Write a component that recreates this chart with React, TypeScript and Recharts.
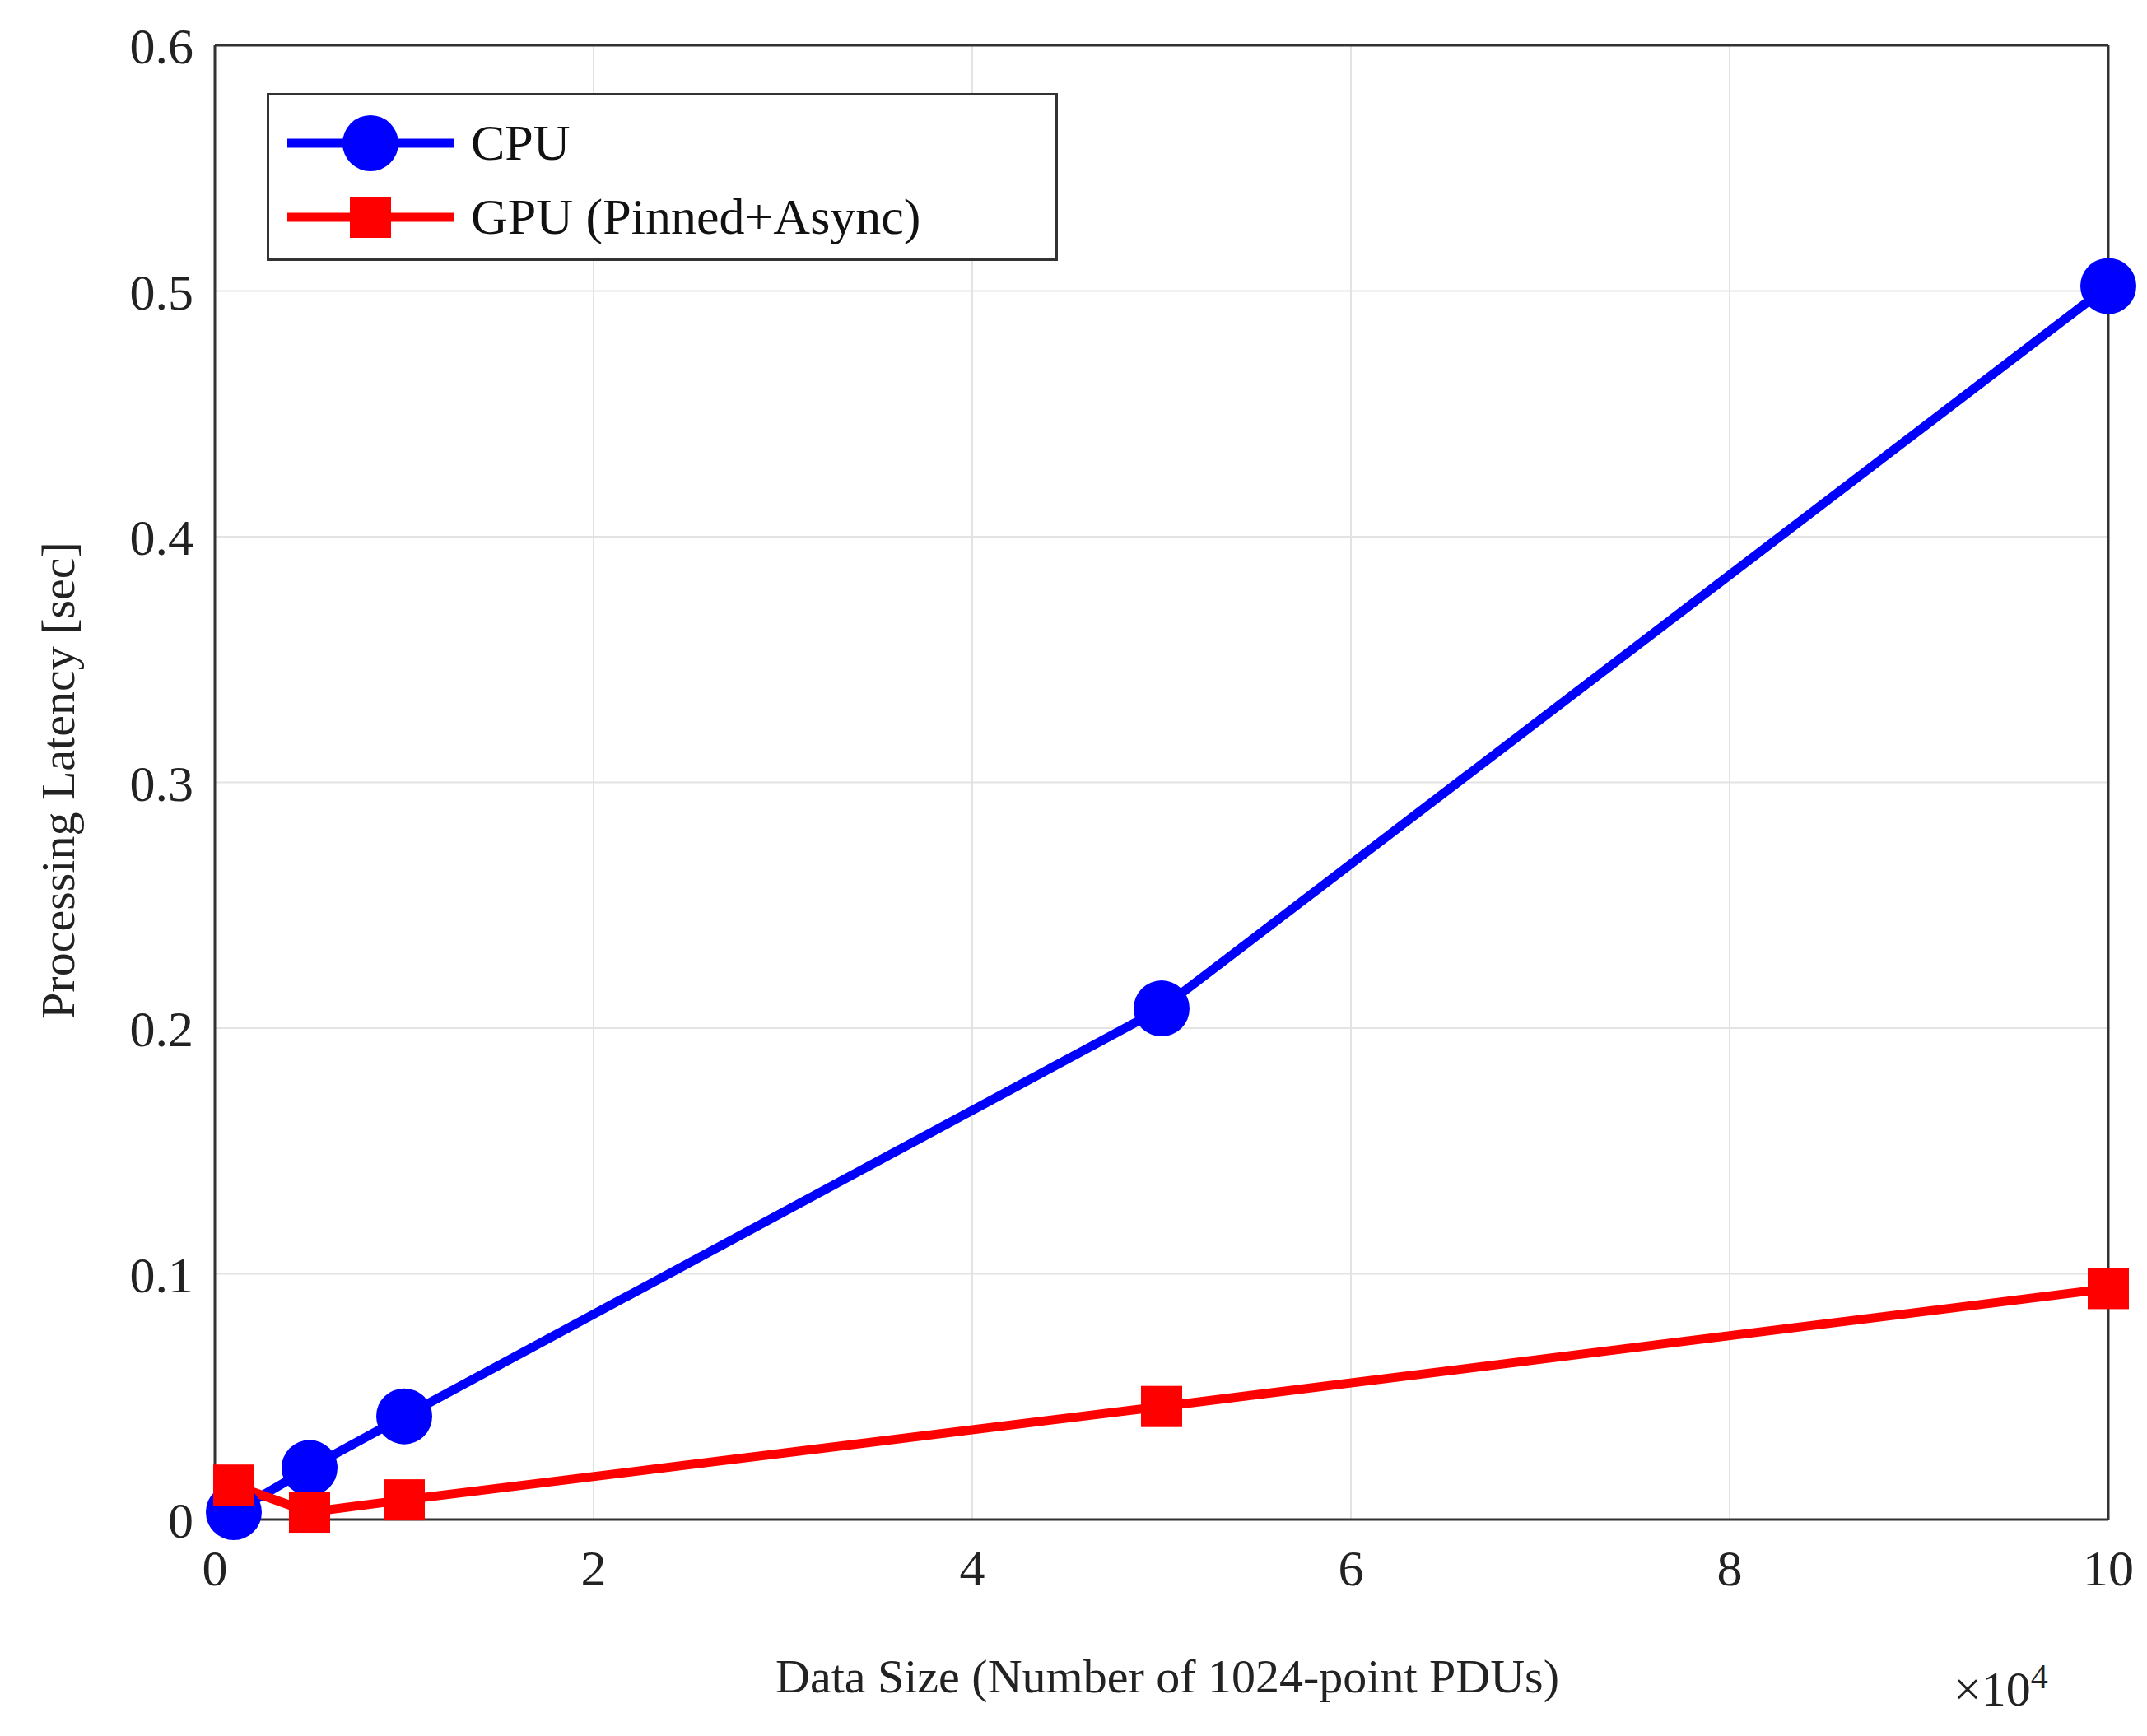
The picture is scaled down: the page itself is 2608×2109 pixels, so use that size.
import React from 'react';
import { CartesianGrid, Line, LineChart, XAxis, YAxis } from 'recharts';

const sizes = [1000, 5000, 10000, 50000, 100000];
const cpuLatency = [0.003, 0.021, 0.042, 0.208, 0.502];
const gpuLatency = [0.014, 0.003, 0.008, 0.046, 0.094];
const xTicks = [0, 20000, 40000, 60000, 80000, 100000];
const yTicks = [0, 0.1, 0.2, 0.3, 0.4, 0.5, 0.6];

const data = sizes.map((n, i) => ({ n, cpu: cpuLatency[i], gpu: gpuLatency[i] }));

const font = '"Liberation Serif", "Times New Roman", serif';
const tick = { fontSize: 62, fill: '#222', fontFamily: font };
const axisLine = { stroke: '#333', strokeWidth: 3 };

const Square = (props: any) => {
  const { cx, cy } = props;
  return <rect x={cx - 25} y={cy - 25} width={50} height={50} fill="#ff0000" />;
};

export default function App() {
  return (
    <div style={{ position: 'relative', width: 2600, height: 2100, fontFamily: font, background: '#fff' }}>
      <LineChart width={2600} height={2100} data={data} margin={{ top: 46, right: 46, left: 103, bottom: 112 }}>
        <CartesianGrid xAxisId="b" yAxisId="l" stroke="#e3e3e3" strokeWidth={2} />
        <XAxis
          xAxisId="b"
          dataKey="n"
          type="number"
          domain={[0, 100000]}
          ticks={xTicks}
          tickFormatter={(v: number) => String(v / 10000)}
          tick={tick}
          tickLine={false}
          tickMargin={30}
          axisLine={axisLine}
          height={150}
        />
        <XAxis xAxisId="t" orientation="top" dataKey="n" type="number" domain={[0, 100000]} ticks={xTicks} tick={false} tickLine={false} axisLine={axisLine} height={1} />
        <YAxis
          yAxisId="l"
          domain={[0, 0.6]}
          ticks={yTicks}
          tickFormatter={(v: number) => String(Number(v.toFixed(1)))}
          tick={tick}
          tickLine={false}
          tickMargin={20}
          axisLine={axisLine}
          width={150}
        />
        <YAxis yAxisId="r" orientation="right" domain={[0, 0.6]} ticks={yTicks} tick={false} tickLine={false} axisLine={axisLine} width={1} />
        <Line xAxisId="b" yAxisId="l" dataKey="cpu" stroke="#0000ff" strokeWidth={11} isAnimationActive={false}
          dot={{ r: 34, fill: '#0000ff', stroke: 'none' }} activeDot={false} />
        <Line xAxisId="b" yAxisId="l" dataKey="gpu" stroke="#ff0000" strokeWidth={11} isAnimationActive={false}
          dot={<Square />} activeDot={false} />
      </LineChart>

      <div style={{ position: 'absolute', left: 316, top: 105, width: 955, height: 198, border: '3px solid #333', background: '#fff' }}>
        <svg width={955} height={198} style={{ position: 'absolute', left: 0, top: 0 }}>
          <line x1={22} y1={58} x2={225} y2={58} stroke="#0000ff" strokeWidth={11} />
          <circle cx={123} cy={58} r={34} fill="#0000ff" />
          <line x1={22} y1={148} x2={225} y2={148} stroke="#ff0000" strokeWidth={11} />
          <rect x={98} y={123} width={50} height={50} fill="#ff0000" />
          <text x={245} y={78} fontSize={62} fontFamily={font} fill="#111">CPU</text>
          <text x={245} y={168} fontSize={62} fontFamily={font} fill="#111">GPU (Pinned+Async)</text>
        </svg>
      </div>

      <div style={{ position: 'absolute', left: 0, top: 1995, width: 2820, textAlign: 'center', fontSize: 58, color: '#222' }}>
        Data Size (Number of 1024-point PDUs)
      </div>
      <div style={{ position: 'absolute', left: 2365, top: 2005, fontSize: 60, color: '#222' }}>
        ×10<sup style={{ fontSize: 42 }}>4</sup>
      </div>
      <div style={{ position: 'absolute', left: 62, top: 940, transform: 'translate(-50%, -50%) rotate(-90deg)', whiteSpace: 'nowrap', fontSize: 58, color: '#222' }}>
        Processing Latency [sec]
      </div>
    </div>
  );
}
